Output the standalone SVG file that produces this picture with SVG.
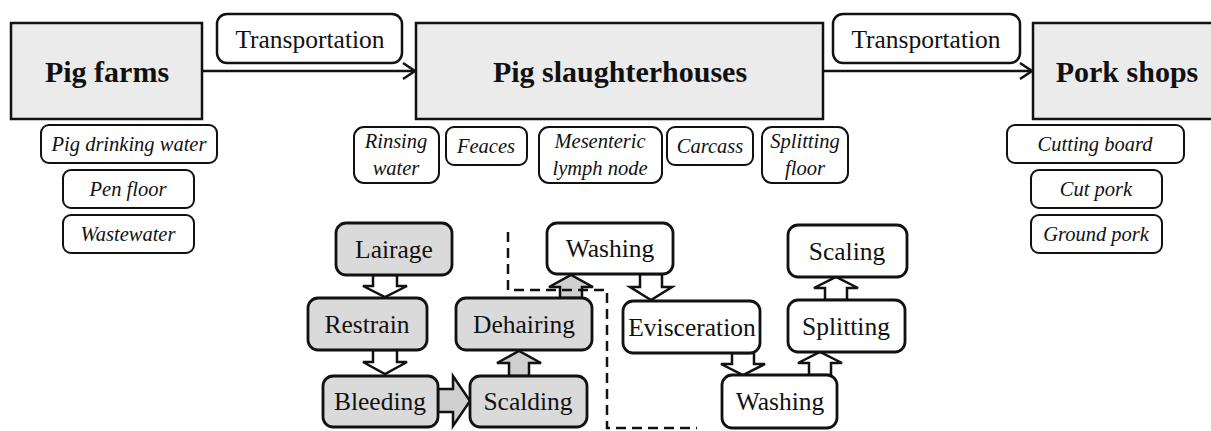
<svg xmlns="http://www.w3.org/2000/svg" width="1211" height="431" viewBox="0 0 1211 431">
<style>
text{font-family:"Liberation Serif","Times New Roman",serif;fill:#111;text-anchor:middle}
.big{fill:#ebebeb;stroke:#111;stroke-width:2.5}
.bt{font-size:30px;font-weight:bold}
.tr{fill:#fff;stroke:#111;stroke-width:2.5}
.tt{font-size:25.5px}
.sm{fill:#fff;stroke:#111;stroke-width:2}
.st{font-size:20.5px;font-style:italic}
.pg{fill:#dadada;stroke:#111;stroke-width:2.8}
.pw{fill:#fff;stroke:#111;stroke-width:2.8}
.pt{font-size:25.5px}
.line{fill:none;stroke:#111;stroke-width:2.5}
.ba{fill:#fff;stroke:#111;stroke-width:2.5;stroke-linejoin:miter}
.bg{fill:#cfcfcf;stroke:#111;stroke-width:2.5;stroke-linejoin:miter}
.dash{fill:none;stroke:#111;stroke-width:2.5;stroke-dasharray:10 6}
</style>
<g id="connectors">
<line class="line" x1="202" y1="71" x2="414" y2="71"/>
<path class="line" d="M403,63 L415,71 L403,79"/>
<line class="line" x1="823" y1="71" x2="1031" y2="71"/>
<path class="line" d="M1020,63 L1032,71 L1020,79"/>
<path class="ba" d="M373,275 H397 V286 H407 L385,297 L363,286 H373 Z"/>
<path class="ba" d="M373,350 H397 V362 H407 L385,374 L363,362 H373 Z"/>
<path class="bg" d="M438,389 H453 V376 L470,401 L453,426 V412 H438 Z"/>
<path class="bg" d="M509,376 V363 H497 L519,351 L541,363 H529 V376 Z"/>
<path class="bg" d="M560,298 V287 H549 L571,275 L593,287 H582 V298 Z"/>
<path class="ba" d="M640,274 H662 V287 H672 L651,300 L630,287 H640 Z"/>
<path class="ba" d="M732,353 H754 V364 H765 L743,375 L721,364 H732 Z"/>
<path class="ba" d="M809,375 V363 H798 L820,352 L842,363 H831 V375 Z"/>
<path class="ba" d="M825,300 V288 H814 L836,277 L858,288 H847 V300 Z"/>
<path class="dash" d="M508,232 V290 H607 V428 H697"/>
</g>
<g id="pig-farms"><rect class="big" x="11" y="23" width="191" height="96"/><text class="bt" x="107" y="82">Pig farms</text></g>
<g id="transport-1"><rect class="tr" x="217" y="14" width="185" height="49" rx="10"/><text class="tt" x="310" y="48">Transportation</text></g>
<g id="slaughterhouses"><rect class="big" x="416" y="23" width="407" height="96"/><text class="bt" x="620" y="82">Pig slaughterhouses</text></g>
<g id="transport-2"><rect class="tr" x="833" y="14" width="187" height="49" rx="10"/><text class="tt" x="926" y="48">Transportation</text></g>
<g id="pork-shops"><rect class="big" x="1033" y="23" width="190" height="96"/><text class="bt" x="1127" y="82">Pork shops</text></g>
<g id="pig-drinking-water"><rect class="sm" x="41" y="125" width="176" height="38" rx="8"/><text class="st" x="129" y="151">Pig drinking water</text></g>
<g id="pen-floor"><rect class="sm" x="63" y="170" width="131" height="38" rx="8"/><text class="st" x="128" y="196">Pen floor</text></g>
<g id="wastewater"><rect class="sm" x="63" y="215" width="131" height="38" rx="8"/><text class="st" x="128" y="241">Wastewater</text></g>
<g id="rinsing-water"><rect class="sm" x="354" y="127" width="85" height="56" rx="10"/><text class="st" x="396" y="148">Rinsing</text><text class="st" x="396" y="175">water</text></g>
<g id="feaces"><rect class="sm" x="446" y="127" width="81" height="38" rx="8"/><text class="st" x="486" y="153">Feaces</text></g>
<g id="mesenteric"><rect class="sm" x="539" y="127" width="123" height="56" rx="10"/><text class="st" x="600" y="148">Mesenteric</text><text class="st" x="600" y="175">lymph node</text></g>
<g id="carcass"><rect class="sm" x="667" y="127" width="86" height="38" rx="8"/><text class="st" x="710" y="153">Carcass</text></g>
<g id="splitting-floor"><rect class="sm" x="762" y="127" width="86" height="56" rx="10"/><text class="st" x="805" y="148">Splitting</text><text class="st" x="805" y="175">floor</text></g>
<g id="cutting-board"><rect class="sm" x="1007" y="125" width="177" height="38" rx="8"/><text class="st" x="1095" y="151">Cutting board</text></g>
<g id="cut-pork"><rect class="sm" x="1031" y="170" width="131" height="38" rx="8"/><text class="st" x="1096" y="196">Cut pork</text></g>
<g id="ground-pork"><rect class="sm" x="1031" y="215" width="131" height="38" rx="8"/><text class="st" x="1096" y="241">Ground pork</text></g>
<g id="lairage"><rect class="pg" x="336" y="223" width="116" height="52" rx="10"/><text class="pt" x="394" y="258">Lairage</text></g>
<g id="restrain"><rect class="pg" x="308" y="298" width="119" height="52" rx="10"/><text class="pt" x="367" y="333">Restrain</text></g>
<g id="bleeding"><rect class="pg" x="323" y="376" width="115" height="51" rx="10"/><text class="pt" x="380" y="410">Bleeding</text></g>
<g id="scalding"><rect class="pg" x="470" y="376" width="117" height="51" rx="10"/><text class="pt" x="528" y="410">Scalding</text></g>
<g id="dehairing"><rect class="pg" x="456" y="298" width="136" height="52" rx="10"/><text class="pt" x="524" y="333">Dehairing</text></g>
<g id="washing-1"><rect class="pw" x="547" y="223" width="126" height="51" rx="10"/><text class="pt" x="610" y="257">Washing</text></g>
<g id="evisceration"><rect class="pw" x="623" y="301" width="137" height="52" rx="10"/><text class="pt" x="692" y="336">Evisceration</text></g>
<g id="washing-2"><rect class="pw" x="722" y="375" width="115" height="53" rx="10"/><text class="pt" x="780" y="410">Washing</text></g>
<g id="splitting"><rect class="pw" x="788" y="300" width="117" height="52" rx="10"/><text class="pt" x="846" y="335">Splitting</text></g>
<g id="scaling"><rect class="pw" x="788" y="225" width="119" height="52" rx="10"/><text class="pt" x="847" y="260">Scaling</text></g>
</svg>
